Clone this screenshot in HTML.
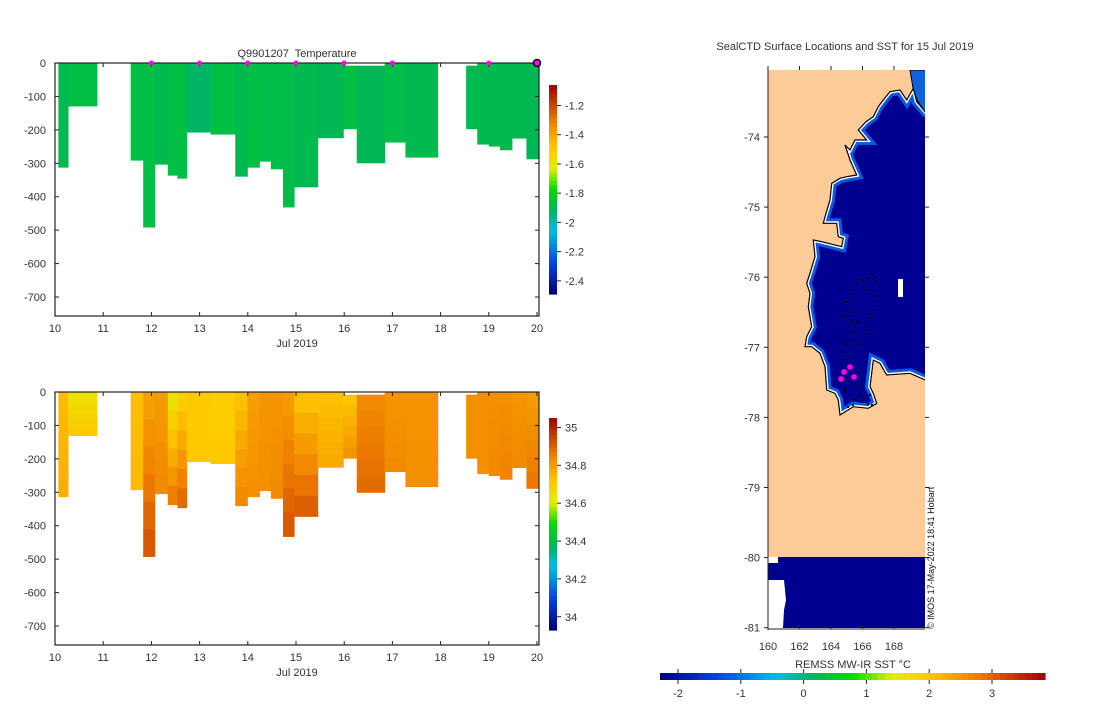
<!DOCTYPE html>
<html><head><meta charset="utf-8"><style>
body{margin:0;background:#fff;}
svg text{font-family:"Liberation Sans","DejaVu Sans",sans-serif;fill:#333;font-size:11px;white-space:pre;}
</style></head><body>
<svg id="s" width="1100" height="700" xmlns="http://www.w3.org/2000/svg">
<defs>
<clipPath id="oc"><polygon id="ocp" points=""/></clipPath>
<clipPath id="mapclip"><rect x="768" y="70" width="157" height="560"/></clipPath>
</defs>
<g id="top"></g>
<g id="bot"></g>
<g id="map"></g>
</svg>
<script>
const NS='http://www.w3.org/2000/svg';
// profile columns: start day, end day, max depth
const colStart=[10.07,10.27,11.57,11.83,12.07,12.34,12.54,12.73,13.23,13.74,13.99,14.24,14.48,14.73,14.96,15.45,15.98,16.26,16.84,17.27,18.53,18.76,19.0,19.23,19.48,19.78];
const colEnd  =[10.27,10.87,11.83,12.07,12.34,12.54,12.73,13.23,13.74,13.99,14.24,14.48,14.73,14.96,15.45,15.98,16.26,16.84,17.27,17.94,18.76,19.0,19.23,19.48,19.78,20.03];
const colDepth=[313,130,292,492,304,337,346,208,214,340,313,295,318,432,372,225,198,300,238,283,198,244,250,261,226,288];
const colTop  =[0,0,0,0,0,0,0,0,0,0,0,0,0,0,0,0,8,8,0,0,8,0,0,0,0,0];
const tempVal =[-1.9,-1.88,-1.88,-1.88,-1.9,-1.88,-1.88,-1.93,-1.88,-1.9,-1.88,-1.89,-1.89,-1.89,-1.9,-1.91,-1.88,-1.91,-1.89,-1.9,-1.9,-1.9,-1.9,-1.9,-1.9,-1.91];
const salTop  =[34.74,34.64,34.73,34.79,34.80,34.64,34.70,34.71,34.70,34.73,34.79,34.81,34.81,34.80,34.73,34.73,34.72,34.83,34.81,34.81,34.82,34.82,34.82,34.82,34.81,34.80];
const salBot  =[34.76,34.71,34.74,34.91,34.83,34.85,34.88,34.71,34.71,34.83,34.82,34.82,34.83,34.91,34.90,34.77,34.81,34.88,34.83,34.82,34.82,34.82,34.83,34.84,34.83,34.86];
const markerDays=[12,13,14,15,16,17,19];
const xTicks=[10,11,12,13,14,15,16,17,18,19,20];
const yTicks=[0,-100,-200,-300,-400,-500,-600,-700];
const tempCbTicks=[-1.2,-1.4,-1.6,-1.8,-2,-2.2,-2.4];
const salCbTicks=[35,34.8,34.6,34.4,34.2,34];
const lonTicks=[160,162,164,166,168];
const latTicks=[-74,-75,-76,-77,-78,-79,-80,-81];
const sstTicks=[-2,-1,0,1,2,3];

const stops=[[0,[0,0,128]],[0.15,[0,70,220]],[0.3,[0,190,230]],[0.4,[0,180,90]],[0.5,[0,220,0]],[0.6,[225,240,0]],[0.7,[255,200,0]],[0.82,[240,128,0]],[1,[160,0,0]]];
function cmap(t){t=Math.max(0,Math.min(1,t));for(let i=1;i<stops.length;i++){if(t<=stops[i][0]){const a=stops[i-1],b=stops[i],f=(t-a[0])/(b[0]-a[0]);const c=a[1].map((v,k)=>Math.round(v+(b[1][k]-v)*f));return `rgb(${c})`;}}return 'rgb(160,0,0)';}
function el(p,tag,at,txt){const e=document.createElementNS(NS,tag);for(const k in at)e.setAttribute(k,at[k]);if(txt!==undefined)e.textContent=txt;p.appendChild(e);return e;}

function panel(g,y0,kind){
  const x=d=>55+(d-10)*48.2, y=v=>y0-v*0.3343;
  const yb=y0+253;
  const lo=kind==='t'?-2.49:33.93, hi=kind==='t'?-1.06:35.05;
  for(let i=0;i<colStart.length;i++){
    let r;
    if(kind==='t'){r=el(g,'rect',{x:x(colStart[i]),y:y(-colTop[i]),width:x(colEnd[i])-x(colStart[i])+0.5,height:(colDepth[i]-colTop[i])*0.3343,fill:cmap((tempVal[i]-lo)/(hi-lo))});}
    else{const n=6;for(let k=0;k<n;k++){const d0=colTop[i]+(colDepth[i]-colTop[i])*k/n,d1=colTop[i]+(colDepth[i]-colTop[i])*(k+1)/n;const v=salTop[i]+(salBot[i]-salTop[i])*k/(n-1);r=el(g,'rect',{x:x(colStart[i]),y:y(-d0),width:x(colEnd[i])-x(colStart[i])+0.5,height:(d1-d0)*0.3343+0.5,fill:cmap((v-lo)/(hi-lo))});}continue;}
    
    
  }
  const ax=el(g,'rect',{x:55,y:y0,width:484,height:yb-y0,fill:'none',stroke:'#222','stroke-width':1.2});
  
  xTicks.forEach(d=>{el(g,'line',{x1:x(d),x2:x(d),y1:yb,y2:yb-4,stroke:'#222'});el(g,'line',{x1:x(d),x2:x(d),y1:y0,y2:y0+4,stroke:'#222'});
    const t=el(g,'text',{x:x(d),y:yb+16,'text-anchor':'middle'},d);});
  yTicks.forEach(v=>{el(g,'line',{x1:55,x2:59,y1:y(v),y2:y(v),stroke:'#222'});el(g,'line',{x1:539,x2:535,y1:y(v),y2:y(v),stroke:'#222'});
    const t=el(g,'text',{x:46,y:y(v)+4,'text-anchor':'end'},v);});
  const xl=el(g,'text',{x:297,y:yb+31,'text-anchor':'middle'},'Jul 2019');
  const cy0=kind==='t'?85:418, cy1=kind==='t'?294:630;
  const n=50;for(let k=0;k<n;k++){el(g,'rect',{x:549,y:cy0+(cy1-cy0)*k/n,width:8,height:(cy1-cy0)/n+0.6,fill:cmap(1-(k+0.5)/n)});}
  const ticks=kind==='t'?tempCbTicks:salCbTicks;
  ticks.forEach(v=>{const yy=cy1-(v-lo)/(hi-lo)*(cy1-cy0);el(g,'line',{x1:557,x2:561,y1:yy,y2:yy,stroke:'#222'});
    const t=el(g,'text',{x:565,y:yy+4},v);});
  if(kind==='t'){
    const tt=el(g,'text',{x:297,y:57,'text-anchor':'middle'},'Q9901207  Temperature');
    markerDays.forEach(d=>{const m=el(g,'circle',{cx:x(d),cy:y0,r:2.5,fill:'#ff00ff'});});
    const c=el(g,'circle',{cx:x(20),cy:y0,r:3.5,fill:'#ff00ff',stroke:'#000','stroke-width':1.5});
  }
}
panel(document.getElementById('top'),63,'t');
panel(document.getElementById('bot'),392,'s');

// map
const mg=document.getElementById('map');
const lonX=l=>768+(l-160)*15.75, latY=l=>137+(-74-l)*70.1;
el(mg,'rect',{x:768,y:70,width:157,height:487,fill:'#fdcb98'});
el(mg,'rect',{x:768,y:557,width:157,height:71,fill:'#000090'});
el(mg,'polygon',{points:'768,557 778,557 778,563 768,563',fill:'#fff'});
el(mg,'polygon',{points:'768,580 784,580 785,590 786,600 784,610 783,628 768,628',fill:'#fff'});
const coast=[[556,155],[530,125],[520,85],[500,120],[480,90],[450,95],[430,120],[415,140],[400,170],[378,185],[355,210],[380,240],[345,240],[330,270],[315,255],[330,300],[350,345],[320,350],[300,355],[275,370],[270,420],[255,470],[250,490],[290,490],[295,530],[310,535],[305,560],[245,545],[220,540],[225,590],[210,640],[200,670],[210,700],[205,740],[215,800],[200,830],[195,860],[215,860],[240,880],[255,920],[260,990],[285,1000],[295,1020],[300,1065],[340,1040],[385,1045],[410,1030],[400,1000],[390,980],[400,900],[420,910],[440,945],[510,940],[556,960],[600,960],[600,155]];
const pts=coast.map(p=>(740+p[0]/3).toFixed(1)+','+(60+p[1]/3).toFixed(1)).join(' ');
document.getElementById('ocp').setAttribute('points',pts);
const mc=el(mg,'g',{'clip-path':'url(#mapclip)'});
const oc=el(mc,'polygon',{points:pts,fill:'#000090'});
const cg=el(mc,'g',{'clip-path':'url(#oc)'});
el(cg,'polygon',{points:pts,fill:'none',stroke:'#0a5ae0','stroke-width':10});
el(cg,'polygon',{points:pts,fill:'none',stroke:'#fff','stroke-width':4});
el(mc,'polygon',{points:pts,fill:'none',stroke:'#000','stroke-width':1.2});
// top-right coastal sliver of ocean
el(mc,'polygon',{points:'910,70 930,70 930,112 925,112 917,100 913,88',fill:'#1060e0',stroke:'#000','stroke-width':1});
el(mg,'rect',{x:898,y:279,width:5,height:18,fill:'#fff'});
const track=[[873,275],[868,278],[862,280],[856,284],[850,290],[852,298],[846,302],[845,315],[852,320],[848,326],[853,333],[855,340],[845,345],[850,352],[843,360],[848,365],[846,380],[845,390],[850,395],[855,400],[862,402],[868,404],[872,405],[860,396],[845,392],[855,384],[866,290],[876,282],[875,296],[874,310],[870,318],[866,330],[852,312],[857,322],[858,345],[850,340],[842,352],[860,388],[864,398],[853,405],[848,407],[870,395]];
track.forEach(p=>{el(mc,'circle',{cx:p[0],cy:p[1],r:1.1,fill:'#000'});});
[[850,367],[844,372],[841,379],[854,377]].forEach(p=>{const c=el(mg,'circle',{cx:p[0],cy:p[1],r:3,fill:'#ff00ff',stroke:'#600060','stroke-width':0.6});});
el(mg,'line',{x1:768,x2:768,y1:70,y2:630,stroke:'#222'});
el(mg,'line',{x1:768,x2:925,y1:629,y2:629,stroke:'#222'});
lonTicks.forEach(l=>{el(mg,'line',{x1:lonX(l),x2:lonX(l),y1:629,y2:625,stroke:'#222'});el(mg,'line',{x1:lonX(l),x2:lonX(l),y1:66,y2:70,stroke:'#222'});
  const t=el(mg,'text',{x:lonX(l),y:650,'text-anchor':'middle'},l);});
latTicks.forEach(l=>{el(mg,'line',{x1:764,x2:768,y1:latY(l),y2:latY(l),stroke:'#222'});el(mg,'line',{x1:925,x2:929,y1:latY(l),y2:latY(l),stroke:'#222'});
  const t=el(mg,'text',{x:760,y:latY(l)+4,'text-anchor':'end'},l);});
const mt=el(mg,'text',{x:845,y:50,'text-anchor':'middle'},'SealCTD Surface Locations and SST for 15 Jul 2019');
const cr=el(mg,'text',{x:0,y:0,transform:'translate(934,629) rotate(-90)','style':'font-size:9px;fill:#111'},'© IMOS 17-May-2022 18:41 Hobart');
const sx=v=>678+(v-(-2))*62.8;
const nb=60;for(let k=0;k<nb;k++){el(mg,'rect',{x:660+385*k/nb,y:673,width:385/nb+0.6,height:7,fill:cmap((k+0.5)/nb)});}
sstTicks.forEach(v=>{el(mg,'line',{x1:sx(v),x2:sx(v),y1:680,y2:684,stroke:'#222'});el(mg,'line',{x1:sx(v),x2:sx(v),y1:669,y2:673,stroke:'#222'});
  const t=el(mg,'text',{x:sx(v),y:697,'text-anchor':'middle'},v);});
const sl=el(mg,'text',{x:853,y:668,'text-anchor':'middle'},'REMSS MW-IR SST °C');
</script>
</body></html>
